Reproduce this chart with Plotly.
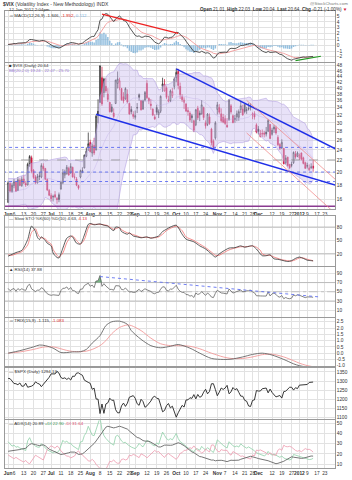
import numpy as np
import pandas as pd
import plotly.graph_objects as go

# ---------------- calendar (trading days) ----------------
HOLIDAYS = ["2011-05-30", "2011-07-04", "2011-09-05", "2011-11-24", "2011-12-26", "2012-01-02", "2012-01-16"]
CAL = [d.strftime("%Y-%m-%d") for d in pd.bdate_range("2011-05-02", "2012-01-31", freq="C", holidays=HOLIDAYS)]
POS = {d: i for i, d in enumerate(CAL)}

# ---------------- $VIX daily OHLC (May 2011 = indicator warm-up) ----------------
OPEN = [
    15.20, 16.10, 16.70, 17.30, 17.60, 18.10, 17.00, 16.10, 16.90, 16.20, 17.30, 18.10, 17.40, 16.10, 15.70, 18.40, 18.10, 17.70, 17.00, 16.00, 15.80,
    15.60, 18.20, 17.00, 17.90, 18.40, 17.20, 18.70, 17.90, 18.90, 18.20, 18.00, 21.40, 22.50, 20.30, 19.20, 18.30, 19.40, 19.20, 21.00, 20.60, 18.80, 17.20,
    16.50, 16.30, 16.60, 16.10, 16.60, 17.40, 18.30, 19.50, 19.70, 20.60, 19.90, 20.80, 19.20, 18.90, 17.90, 19.20, 20.10, 20.70, 22.80, 24.50,
    25.50, 23.40, 24.90, 24.00, 33.00, 35.50, 43.50, 38.50, 40.50, 38.00, 35.50, 34.20, 32.50, 35.20, 41.50, 40.00, 39.80, 37.20, 36.50, 38.00, 35.20, 33.50, 32.20,
    31.40, 34.00, 37.80, 36.00, 33.60, 36.20, 41.50, 36.70, 35.00, 33.60, 31.50, 34.00, 32.10, 33.00, 40.50, 39.00, 40.00, 35.80, 36.00, 37.50, 40.50,
    43.50, 45.80, 40.50, 37.20, 35.50, 35.00, 33.20, 32.50, 31.80, 30.50, 29.50, 33.80, 32.50, 32.30, 34.00, 30.00, 29.60, 31.50, 28.50, 25.80, 26.50,
    33.50, 34.00, 32.30, 31.40, 31.00, 29.40, 30.80, 34.50, 31.80, 30.80, 31.50, 31.40, 33.50, 33.60, 34.90, 33.20, 33.80, 34.00, 32.00, 32.40, 29.50,
    28.50, 26.80, 27.50, 27.60, 27.80, 28.00, 29.60, 27.30, 28.50, 28.80, 26.60, 25.10, 24.40, 24.30, 21.60, 22.60, 21.30, 21.30, 21.60, 23.20, 22.80,
    22.50, 23.40, 22.50, 21.60, 21.00, 20.30, 20.80, 21.01,
]
HIGH = [
    16.40, 17.20, 17.90, 19.00, 18.90, 18.40, 17.20, 17.20, 17.30, 17.50, 18.70, 18.60, 17.60, 16.30, 17.80, 18.90, 18.50, 17.90, 17.20, 16.30, 16.10,
    18.60, 18.40, 18.30, 18.90, 18.50, 19.20, 19.00, 19.30, 19.50, 18.60, 21.60, 23.00, 22.90, 20.50, 19.50, 19.70, 20.00, 21.50, 21.50, 20.70, 19.00, 17.40,
    16.80, 16.60, 17.10, 16.30, 16.90, 18.60, 20.50, 20.40, 21.20, 20.90, 21.50, 20.90, 19.80, 19.20, 18.00, 20.40, 20.80, 23.10, 24.50, 27.70,
    26.10, 25.30, 26.50, 32.00, 36.40, 48.00, 47.60, 43.50, 43.30, 39.90, 35.60, 35.00, 33.80, 42.70, 45.80, 43.50, 40.00, 38.60, 40.20, 39.50, 35.40, 34.40, 33.00,
    33.20, 35.30, 38.20, 36.20, 36.30, 39.00, 42.60, 37.00, 36.50, 33.80, 32.20, 34.80, 33.50, 37.60, 43.50, 43.00, 40.50, 37.50, 39.50, 40.00, 43.60,
    46.90, 46.80, 41.80, 38.00, 37.00, 35.30, 34.10, 33.00, 32.30, 30.80, 33.60, 34.50, 33.20, 36.20, 34.30, 30.60, 32.50, 32.40, 28.80, 26.20, 30.40,
    35.60, 35.00, 33.80, 32.30, 31.90, 31.20, 36.40, 35.00, 32.10, 32.00, 33.20, 33.50, 36.00, 34.80, 35.00, 34.20, 35.30, 35.20, 32.70, 33.00, 29.90,
    29.20, 28.30, 28.40, 28.10, 29.00, 30.90, 29.70, 28.80, 29.50, 29.30, 27.10, 25.40, 26.20, 24.40, 23.00, 22.70, 21.40, 21.80, 23.70, 23.80, 23.70,
    23.30, 23.50, 22.70, 21.80, 21.60, 21.30, 21.50, 22.03,
]
LOW = [
    15.00, 15.90, 16.40, 17.10, 17.20, 17.00, 15.80, 15.90, 15.90, 16.00, 17.10, 17.30, 16.10, 15.40, 15.50, 17.70, 17.40, 16.90, 15.90, 15.60, 15.30,
    15.50, 16.90, 16.90, 17.50, 17.00, 17.10, 17.80, 17.70, 18.10, 17.70, 17.90, 20.90, 19.80, 18.90, 18.10, 18.20, 18.70, 19.00, 20.20, 18.70, 17.10, 16.40,
    15.70, 15.70, 16.10, 15.40, 15.60, 17.30, 18.10, 19.00, 19.60, 19.40, 19.70, 19.10, 18.80, 17.80, 17.30, 19.00, 19.80, 20.60, 22.60, 23.80,
    23.50, 22.70, 23.00, 23.90, 29.90, 35.40, 34.50, 37.00, 38.40, 35.60, 32.70, 32.60, 31.20, 35.00, 39.80, 39.20, 36.00, 35.20, 36.30, 35.20, 32.00, 32.20, 31.00,
    30.80, 32.50, 36.00, 33.20, 33.40, 35.80, 36.50, 35.00, 33.40, 31.70, 30.70, 32.00, 31.20, 32.50, 38.70, 38.80, 36.50, 35.50, 35.60, 36.80, 39.50,
    41.90, 39.50, 36.50, 35.60, 33.60, 32.80, 31.80, 30.20, 30.00, 27.80, 29.20, 30.70, 30.40, 32.10, 30.70, 28.60, 29.20, 29.50, 24.90, 24.20, 26.10,
    32.10, 32.20, 30.10, 29.90, 29.50, 28.80, 30.50, 32.30, 29.90, 30.00, 30.40, 30.50, 32.50, 31.80, 32.40, 32.30, 33.20, 33.20, 30.90, 30.80, 27.50,
    27.30, 26.60, 26.70, 26.60, 26.80, 27.80, 26.20, 27.00, 27.60, 27.20, 24.80, 24.00, 24.20, 21.30, 21.30, 20.90, 20.50, 20.80, 21.40, 22.30, 22.60,
    22.10, 22.00, 21.30, 20.50, 20.60, 20.30, 20.50, 20.04,
]
CLOSE = [
    15.99, 16.70, 17.08, 18.20, 18.40, 17.16, 15.91, 16.95, 16.03, 17.07, 18.24, 17.52, 16.23, 15.52, 17.43, 18.27, 17.82, 17.07, 16.09, 15.98, 15.45,
    18.30, 17.09, 17.95, 18.49, 17.07, 18.79, 17.90, 18.86, 18.26, 17.99, 21.32, 22.73, 20.10, 19.13, 18.32, 19.29, 19.29, 21.10, 20.56, 18.86, 17.27, 16.52,
    16.06, 16.34, 16.28, 15.95, 15.95, 18.39, 19.87, 19.91, 20.80, 19.53, 20.95, 19.21, 19.17, 17.94, 17.52, 20.23, 20.23, 22.98, 23.74, 25.25,
    23.66, 24.79, 23.38, 31.66, 32.00, 48.00, 35.06, 42.99, 39.00, 36.36, 32.85, 32.91, 31.58, 42.67, 43.05, 42.44, 36.27, 35.90, 39.76, 35.59, 32.28, 32.89, 31.62,
    31.82, 33.92, 37.00, 33.38, 35.91, 38.52, 36.91, 35.91, 34.60, 31.97, 30.98, 32.73, 32.86, 37.32, 41.35, 41.25, 37.00, 36.27, 39.00, 38.84, 42.96,
    45.45, 40.82, 37.81, 36.27, 36.20, 33.04, 32.86, 30.70, 31.26, 28.24, 33.39, 31.26, 32.00, 34.78, 31.32, 29.26, 32.22, 29.86, 25.46, 24.53, 29.96,
    34.77, 32.74, 30.50, 30.16, 29.85, 29.00, 36.16, 32.81, 30.04, 31.13, 32.33, 32.91, 34.51, 32.00, 32.91, 33.40, 33.61, 34.47, 32.28, 31.48, 27.80,
    27.95, 27.52, 27.41, 27.32, 27.34, 30.59, 26.38, 28.24, 28.98, 27.58, 25.04, 24.29, 25.55, 21.43, 22.43, 21.09, 20.73, 21.16, 23.52, 22.65, 23.40,
    22.97, 22.22, 21.48, 20.63, 21.07, 20.69, 20.85, 20.64,
]
DATES = CAL[:len(CLOSE)]
FIRST_SHOWN = "2011-06-01"

# ---------------- $SPX daily closes (from Jun 1 2011) ----------------
SPX_CLOSE = [
    1314.55, 1312.94, 1300.16, 1286.17, 1284.94, 1279.56, 1289.00, 1270.98, 1271.83, 1287.87, 1265.42, 1267.64, 1271.50, 1278.36, 1295.52, 1287.14, 1283.50, 1268.45, 1280.10, 1296.67, 1307.41, 1320.64,
    1339.67, 1337.88, 1339.22, 1353.22, 1343.80, 1319.49, 1313.64, 1317.72, 1308.87, 1316.14, 1305.44, 1326.73, 1325.84, 1343.80, 1345.02, 1337.43, 1331.94, 1304.89, 1300.67, 1292.28,
    1286.94, 1254.05, 1260.34, 1200.07, 1199.38, 1119.46, 1172.53, 1120.76, 1172.64, 1178.81, 1204.49, 1192.76, 1193.89, 1140.65, 1123.53, 1123.82, 1162.35, 1177.60, 1159.27, 1176.80, 1210.08, 1212.92, 1218.89,
    1204.42, 1173.97, 1165.24, 1198.62, 1185.90, 1154.23, 1162.27, 1172.87, 1188.68, 1209.11, 1216.01, 1204.09, 1202.09, 1166.76, 1129.56, 1136.43, 1162.95, 1175.38, 1151.06, 1160.40, 1131.42,
    1099.23, 1123.95, 1144.03, 1164.97, 1155.46, 1194.89, 1195.54, 1207.25, 1203.66, 1224.58, 1200.86, 1225.38, 1209.88, 1215.39, 1238.25, 1254.19, 1229.05, 1242.00, 1284.59, 1285.09, 1253.30,
    1218.28, 1237.90, 1261.15, 1253.23, 1261.12, 1275.92, 1229.10, 1239.69, 1263.85, 1251.78, 1257.81, 1236.91, 1216.13, 1215.65, 1192.98, 1188.04, 1161.79, 1158.67, 1192.55, 1195.19, 1246.96,
    1244.58, 1244.28, 1257.08, 1258.47, 1261.01, 1234.35, 1255.19, 1236.47, 1225.73, 1211.82, 1215.75, 1219.66, 1205.35, 1241.30, 1243.72, 1254.00, 1265.33, 1265.43, 1249.64, 1263.02, 1257.60,
    1277.06, 1277.30, 1281.06, 1277.81, 1280.70, 1292.08, 1292.48, 1294.13,
]
SPX_DATES = DATES[POS[FIRST_SHOWN]:]

# ---------------- Slow stochastic ----------------
STO_DATES = ["2011-06-01", "2011-06-03", "2011-06-07", "2011-06-10", "2011-06-15", "2011-06-17", "2011-06-21", "2011-06-22", "2011-06-23", "2011-06-24", "2011-06-28", "2011-06-29",
             "2011-07-01", "2011-07-05", "2011-07-07", "2011-07-08", "2011-07-12", "2011-07-14", "2011-07-18", "2011-07-19", "2011-07-21", "2011-07-25", "2011-07-27", "2011-07-29",
             "2011-08-01", "2011-08-03", "2011-08-08", "2011-08-10", "2011-08-12", "2011-08-15", "2011-08-17", "2011-08-18", "2011-08-22", "2011-08-23", "2011-08-26", "2011-08-29", "2011-08-31",
             "2011-09-02", "2011-09-07", "2011-09-12", "2011-09-14", "2011-09-16", "2011-09-20", "2011-09-22", "2011-09-26", "2011-09-28",
             "2011-10-03", "2011-10-06", "2011-10-10", "2011-10-14", "2011-10-19", "2011-10-24", "2011-10-27", "2011-10-31",
             "2011-11-02", "2011-11-04", "2011-11-09", "2011-11-14", "2011-11-17", "2011-11-21", "2011-11-25", "2011-11-28", "2011-11-30",
             "2011-12-02", "2011-12-05", "2011-12-07", "2011-12-09", "2011-12-13", "2011-12-15", "2011-12-19", "2011-12-22", "2011-12-27", "2011-12-29",
             "2012-01-03", "2012-01-05", "2012-01-09", "2012-01-11", "2012-01-12"]
STO_K = [15, 19, 23, 28, 52, 82, 70, 57, 52, 58, 50, 44,
         38, 22, 12, 11, 33, 55, 60, 58, 44, 42, 62, 86,
         88, 85, 87, 84, 82, 78, 72, 80, 78, 70, 64, 67, 60,
         58, 56, 58, 55, 57, 60, 70, 75, 80,
         84, 64, 53, 47, 38, 31, 20, 13,
         20, 26, 33, 34, 38, 35, 38, 38, 31,
         20, 16, 16, 18, 9, 8, 6, 3, 5, 10,
         13, 10, 6, 5, 4.63]
STO_D = [18, 17, 20, 25, 40, 68, 76, 66, 58, 56, 54, 48,
         42, 30, 17, 13, 22, 45, 58, 60, 50, 42, 52, 78,
         86, 86, 86, 85, 83, 80, 75, 76, 79, 74, 67, 66, 63,
         60, 57, 57, 56, 56, 58, 64, 72, 77,
         82, 72, 58, 50, 42, 34, 24, 17,
         17, 22, 29, 33, 36, 36, 37, 38, 35,
         28, 20, 17, 17, 13, 10, 7, 5, 4, 7,
         11, 11, 8, 6, 4.13]

# ---------------- TRIX(15,9) ----------------
TRIX_DATES = ["2011-06-01", "2011-06-09", "2011-06-20", "2011-06-23", "2011-06-28", "2011-07-05", "2011-07-11", "2011-07-14", "2011-07-19", "2011-07-25",
              "2011-07-28", "2011-08-02", "2011-08-08", "2011-08-11", "2011-08-16", "2011-08-22", "2011-08-26", "2011-08-30", "2011-09-07", "2011-09-14",
              "2011-09-21", "2011-09-28", "2011-10-04", "2011-10-12", "2011-10-19", "2011-10-27", "2011-11-04", "2011-11-10", "2011-11-18", "2011-11-28",
              "2011-12-05", "2011-12-12", "2011-12-20", "2011-12-28", "2012-01-03", "2012-01-06", "2012-01-12"]
TRIX_K = [0.0, 0.2, 0.5, 0.65, 0.6, 0.4, 0.05, 0.05, 0.1, 0.12,
          0.3, 0.8, 1.4, 2.2, 2.5, 2.55, 2.3, 1.8, 1.1, 0.6,
          0.43, 0.55, 0.69, 0.4, 0.0, -0.42, -0.5, -0.48, -0.3, -0.1,
          0.0, -0.15, -0.5, -0.85, -1.0, -1.08, -1.115]
TRIX_S = [0.0, 0.1, 0.3, 0.42, 0.5, 0.5, 0.35, 0.22, 0.14, 0.12,
          0.16, 0.3, 0.6, 1.0, 1.55, 2.05, 2.25, 2.2, 1.8, 1.2,
          0.75, 0.6, 0.6, 0.55, 0.35, 0.0, -0.3, -0.42, -0.42, -0.3,
          -0.12, -0.08, -0.3, -0.6, -0.8, -0.95, -1.083]

# ---------------- hand-drawn lines ----------------
PT_START_D = ["2011-10-03", "2011-08-04", "2011-11-22", "2011-11-22"]
PT_START_V = [46.8, 32.2, 36.1, 27.6]
PT_END_D = ["2012-01-31", "2012-01-31", "2012-01-31", "2012-01-27"]
PT_END_V = [24.1, 17.9, 18.66, 14.5]
PT_KIND = ["blue", "blue", "red", "red"]
PRICE_HLINES = [24.5, 22.1, 20.0, 18.5, 15.1]
PRICE_HSTYLE = ["blue", "gray", "blue", "blue", "purple"]
MACD_LINES = [("2011-08-09", 5.35, "2011-10-04", 2.05, "#ee2222", 1.4), ("2011-12-29", -2.65, "2012-01-19", -1.9, "#229922", 1.2)]
RSI_LINE = ("2011-08-08", 83, "2012-01-19", 38.5)

# ---------------- axis ticks ----------------
TICK_DATES = ["2011-06-01", "2011-06-06", "2011-06-13", "2011-06-20", "2011-06-27", "2011-07-01", "2011-07-11", "2011-07-18", "2011-07-25",
              "2011-08-01", "2011-08-08", "2011-08-15", "2011-08-22", "2011-08-29", "2011-09-01", "2011-09-12", "2011-09-19", "2011-09-26",
              "2011-10-03", "2011-10-10", "2011-10-17", "2011-10-24", "2011-11-01", "2011-11-07", "2011-11-14", "2011-11-21", "2011-11-28",
              "2011-12-01", "2011-12-12", "2011-12-19", "2011-12-27", "2012-01-03", "2012-01-09", "2012-01-17", "2012-01-23"]
TICK_TEXT = ["<b>Jun</b>", "6", "13", "20", "27", "<b>Jul</b>", "11", "18", "25",
             "<b>Aug</b>", "8", "15", "22", "29", "<b>Sep</b>", "12", "19", "26",
             "<b>Oct</b>", "10", "17", "24", "<b>Nov</b>", "7", "14", "21", "28",
             "<b>Dec</b>", "12", "19", "27", "<b>2012</b>", "9", "17", "23"]
PRICE_TICKS = [16, 18, 20, 22, 24, 26, 28, 30, 32, 34, 36, 38, 40, 42, 44, 46, 48]
MACD_TICKS = [-2, -1, 0, 1, 2, 3, 4, 5]
STO_TICKS = [20, 50, 80]
RSI_TICKS = [10, 30, 50, 70, 90]
TRIX_TICKS = [-1.0, -0.5, 0.0, 0.5, 1.0, 1.5, 2.0, 2.5]
SPX_TICKS = [1100, 1150, 1200, 1250, 1300, 1350]
ADX_TICKS = [10, 20, 30, 40, 50]

# ---------------- indicator maths (standard definitions on the OHLC above) ----------------
O = np.array(OPEN); H = np.array(HIGH); L = np.array(LOW); C = np.array(CLOSE)
n = len(C)


def ema(x, p):
    a = 2.0 / (p + 1)
    out = np.empty(len(x))
    out[0] = x[0]
    for i in range(1, len(x)):
        out[i] = a * x[i] + (1 - a) * out[i - 1]
    return out


macd = ema(C, 12) - ema(C, 26)
macd_sig = ema(macd, 9)
macd_hist = macd - macd_sig

s = pd.Series(C)
bb_mid = s.rolling(20).mean().values
bb_sd = s.rolling(20).std(ddof=0).values
bb_up = bb_mid + 2 * bb_sd
bb_lo = bb_mid - 2 * bb_sd

d = np.diff(C, prepend=C[0])
gain = np.clip(d, 0, None); loss = np.clip(-d, 0, None)
ag = np.full(n, np.nan); al = np.full(n, np.nan)
ag[14] = gain[1:15].mean(); al[14] = loss[1:15].mean()
for i in range(15, n):
    ag[i] = (ag[i - 1] * 13 + gain[i]) / 14
    al[i] = (al[i - 1] * 13 + loss[i]) / 14
rsi = 100 - 100 / (1 + ag / al)

tr = np.zeros(n); pdm = np.zeros(n); mdm = np.zeros(n)
for i in range(1, n):
    tr[i] = max(H[i] - L[i], abs(H[i] - C[i - 1]), abs(L[i] - C[i - 1]))
    up = H[i] - H[i - 1]; dn = L[i - 1] - L[i]
    pdm[i] = up if (up > dn and up > 0) else 0
    mdm[i] = dn if (dn > up and dn > 0) else 0
str_ = np.full(n, np.nan); sp = np.full(n, np.nan); sm = np.full(n, np.nan)
str_[14] = tr[1:15].sum(); sp[14] = pdm[1:15].sum(); sm[14] = mdm[1:15].sum()
for i in range(15, n):
    str_[i] = str_[i - 1] - str_[i - 1] / 14 + tr[i]
    sp[i] = sp[i - 1] - sp[i - 1] / 14 + pdm[i]
    sm[i] = sm[i - 1] - sm[i - 1] / 14 + mdm[i]
pdi = 100 * sp / str_; mdi = 100 * sm / str_
dx = 100 * np.abs(pdi - mdi) / (pdi + mdi)
adx = np.full(n, np.nan)
adx[14] = dx[14]
for i in range(15, n):
    adx[i] = (adx[i - 1] * 13 + dx[i]) / 14

k0 = POS[FIRST_SHOWN]
XD = DATES[k0:]

# ---------------- figure ----------------
W, HGT = 352, 480
ML, MR = 5, 17
FONT = "Liberation Sans"


def py(y):
    return 1 - y / HGT


def pxx(x):
    return (x - ML) / (W - ML - MR)


PANELS = [("macd", 62, 11), ("price", 210, 63), ("sto", 267, 217), ("rsi", 318, 268),
          ("trix", 368, 319), ("spx", 421, 370), ("adx", 470, 422)]
AX = {}
for k, (nm, yb, yt) in enumerate(PANELS):
    AX[nm] = ("" if k == 0 else str(k + 1))

fig = go.Figure()


def add(tr_, nm):
    a = AX[nm]
    tr_.update(xaxis="x" + a, yaxis="y" + a)
    fig.add_trace(tr_)


# MACD
add(go.Bar(x=XD, y=macd_hist[k0:], marker=dict(color="rgba(120,175,215,0.8)", line=dict(width=0)), width=0.75, hoverinfo="skip"), "macd")
add(go.Scatter(x=XD, y=macd_sig[k0:], mode="lines", line=dict(color="#f29a9a", width=0.9)), "macd")
add(go.Scatter(x=XD, y=macd[k0:], mode="lines", line=dict(color="#444444", width=0.9)), "macd")
for (d0, v0, d1, v1, col, w) in MACD_LINES:
    add(go.Scatter(x=[d0, d1], y=[v0, v1], mode="lines", line=dict(color=col, width=w)), "macd")

# Price: Bollinger band
add(go.Scatter(x=XD, y=bb_up[k0:], mode="lines", line=dict(color="rgba(175,155,225,0.9)", width=0.6)), "price")
add(go.Scatter(x=XD, y=bb_lo[k0:], mode="lines", line=dict(color="rgba(175,155,225,0.9)", width=0.6),
               fill="tonexty", fillcolor="rgba(205,190,240,0.45)"), "price")
add(go.Scatter(x=XD, y=bb_mid[k0:], mode="lines", line=dict(color="rgba(185,165,230,0.7)", width=0.5)), "price")
# horizontal lines
HSTY = {"blue": dict(color="#4a5cf0", width=0.8, dash="dot"), "gray": dict(color="#888888", width=0.7, dash="dash"),
        "purple": dict(color="#8a3a90", width=1.6)}
for v, st in zip(PRICE_HLINES, PRICE_HSTYLE):
    add(go.Scatter(x=[CAL[0], CAL[-1]], y=[v, v], mode="lines", line=HSTY[st]), "price")

# candles: black = up vs previous close, red = down; hollow = close > open
prevc = np.r_[np.nan, C[:-1]]
upday = C >= prevc
for mask_val, col in [(True, "#1a1a1a"), (False, "#d0103a")]:
    idx = [i for i in range(k0, n) if bool(upday[i]) == mask_val]
    add(go.Candlestick(x=[DATES[i] for i in idx], open=O[idx], high=H[idx], low=L[idx], close=C[idx],
                       increasing=dict(line=dict(color=col, width=0.7), fillcolor="white"),
                       decreasing=dict(line=dict(color=col, width=0.7), fillcolor=col),
                       whiskerwidth=0, hoverinfo="skip"), "price")
# trend lines
TSTY = {"blue": dict(color="#1f2fe8", width=1.4), "red": dict(color="#f08080", width=0.7)}
for d0, v0, d1, v1, kd in zip(PT_START_D, PT_START_V, PT_END_D, PT_END_V, PT_KIND):
    add(go.Scatter(x=[d0, d1], y=[v0, v1], mode="lines", line=TSTY[kd]), "price")

# STO
for yv in (80, 20):
    add(go.Scatter(x=[CAL[0], CAL[-1]], y=[yv, yv], mode="lines", line=dict(color="#aaaaaa", width=0.7)), "sto")
add(go.Scatter(x=STO_DATES, y=STO_D, mode="lines", line=dict(color="#f07070", width=0.8, shape="spline", smoothing=0.7)), "sto")
add(go.Scatter(x=STO_DATES, y=STO_K, mode="lines", line=dict(color="#333333", width=0.8, shape="spline", smoothing=0.7)), "sto")

# RSI
for yv in (70, 30):
    add(go.Scatter(x=[CAL[0], CAL[-1]], y=[yv, yv], mode="lines", line=dict(color="#aaaaaa", width=0.7)), "rsi")
add(go.Scatter(x=[CAL[0], CAL[-1]], y=[50, 50], mode="lines", line=dict(color="#aaaaaa", width=0.6, dash="dashdot")), "rsi")
r = rsi[k0:]
add(go.Scatter(x=XD, y=[70] * len(XD), mode="lines", line=dict(width=0, color="rgba(0,0,0,0)")), "rsi")
add(go.Scatter(x=XD, y=np.maximum(r, 70), mode="lines", line=dict(width=0, color="rgba(0,0,0,0)"),
               fill="tonexty", fillcolor="rgba(60,150,80,0.7)"), "rsi")
add(go.Scatter(x=XD, y=r, mode="lines", line=dict(color="#666666", width=0.8)), "rsi")
add(go.Scatter(x=[RSI_LINE[0], RSI_LINE[2]], y=[RSI_LINE[1], RSI_LINE[3]], mode="lines",
               line=dict(color="#6070f0", width=0.9, dash="dot")), "rsi")

# TRIX
add(go.Scatter(x=TRIX_DATES, y=TRIX_S, mode="lines", line=dict(color="#f29a9a", width=0.9, shape="spline", smoothing=0.8)), "trix")
add(go.Scatter(x=TRIX_DATES, y=TRIX_K, mode="lines", line=dict(color="#666666", width=0.9, shape="spline", smoothing=0.8)), "trix")

# SPX
add(go.Scatter(x=SPX_DATES, y=SPX_CLOSE, mode="lines", line=dict(color="#222222", width=0.9)), "spx")

# ADX
add(go.Scatter(x=XD, y=pdi[k0:], mode="lines", line=dict(color="#8fd0a8", width=0.8)), "adx")
add(go.Scatter(x=XD, y=mdi[k0:], mode="lines", line=dict(color="#ee9aae", width=0.8)), "adx")
add(go.Scatter(x=XD, y=adx[k0:], mode="lines", line=dict(color="#666666", width=0.9)), "adx")

# ---------------- axes ----------------
XR = [k0 - 1.6, k0 + 167.2]
YR = {"macd": [-2.85, 5.9], "price": [np.log10(14.74), np.log10(49.2)], "sto": [-6.7, 104.4],
      "rsi": [-4, 104], "trix": [-1.06, 2.83], "spx": [1088, 1369.6], "adx": [6.1, 52.9]}
YT = {"macd": MACD_TICKS, "price": PRICE_TICKS, "sto": STO_TICKS, "rsi": RSI_TICKS, "trix": TRIX_TICKS,
      "spx": SPX_TICKS, "adx": ADX_TICKS}
YTT = {"trix": ["%.1f" % v for v in TRIX_TICKS]}
TF = dict(family=FONT, size=4.8, color="#333333")
lay = {}
for k, (nm, yb, yt) in enumerate(PANELS):
    a = AX[nm]
    xa = dict(domain=[0, 1], anchor="y" + a, type="category", categoryorder="array", categoryarray=CAL,
              range=XR, tickmode="array", tickvals=TICK_DATES, ticktext=TICK_TEXT, tickangle=0,
              showticklabels=nm in ("price", "adx"), tickfont=TF, ticks="", ticklen=0,
              showgrid=True, gridcolor="#e2e2e2", gridwidth=0.6, zeroline=False,
              showline=True, mirror=True, linecolor="#9a9a9a", linewidth=0.6,
              rangeslider=dict(visible=False), fixedrange=True)
    if k > 0:
        xa["matches"] = "x"
    ya = dict(domain=[py(yb), py(yt)], anchor="x" + a, side="right", range=YR[nm], tickmode="array",
              tickvals=YT[nm], tickfont=TF, ticks="", showgrid=True, gridcolor="#e2e2e2", gridwidth=0.6,
              zeroline=False, showline=True, mirror=True, linecolor="#9a9a9a", linewidth=0.6, fixedrange=True)
    if nm == "price":
        ya["type"] = "log"
    if nm in YTT:
        ya["ticktext"] = YTT[nm]
    lay["xaxis" + a] = xa
    lay["yaxis" + a] = ya

# ---------------- texts ----------------
RED = "#e02020"
ann = []


def note(x, y, text, size=4.4, anchor="left", color="#333333"):
    ann.append(dict(x=pxx(x), y=py(y), xref="paper", yref="paper", text=text, showarrow=False,
                    xanchor=anchor, yanchor="middle", font=dict(family=FONT, size=size, color=color)))


note(1, 3.6, "<b>$VIX</b> (Volatility Index - New Methodology) INDX", size=5.0)
note(7, 9.4, "12-Jan-2012 2:04pm", size=4.4)
note(350, 3.4, "@StockCharts.com", size=4.4, anchor="right", color="#777777")
note(349, 9.4, "<b>Open</b> 21.01  <b>High</b> 22.03  <b>Low</b> 20.04  <b>Last</b> 20.64  <b>Chg</b> -0.21 (-1.00%) "
     "<span style='color:#d0103a'>▼</span>", size=4.6, anchor="right")
note(7, 15.2, "═ MACD(12,26,9) -1.846, <span style='color:%s'>-1.952</span>, <span style='color:#7ab0dc'>0.112</span>" % RED)
note(7, 66.2, "■ $VIX (Daily) 20.64")
note(7, 70.8, "BB(20,2.0) 19.24 - 22.47 - 25.70", color="#9a7ad8", size=4.2)
note(7, 219.6, "— Slow STO %K(60) %D(10) 4.63, <span style='color:#e03030'>4.13</span>")
note(7, 270.2, "▲ RSI(14) 37.88")
note(7, 321.8, "═ TRIX(15,9) -1.115, <span style='color:#e03030'>-1.083</span>")
note(7, 372.8, "— $SPX (Daily) 1294.13")
note(7, 424.8, "— ADX(14) 20.89 <span style='color:#3a9a5a'>+DI 22.90</span> <span style='color:#e05070'>-DI 31.64</span>")

fig.update_layout(width=W, height=HGT, margin=dict(l=ML, r=MR, t=0, b=0), paper_bgcolor="white",
                  plot_bgcolor="white", showlegend=False, annotations=ann, bargap=0.2,
                  font=dict(family=FONT, size=4.8, color="#333333"), **lay)
fig.write_html("out.html")
